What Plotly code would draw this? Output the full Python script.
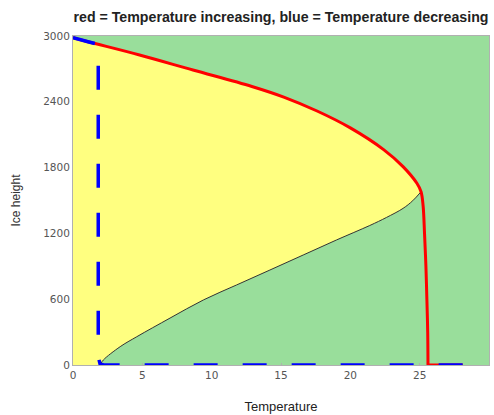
import plotly.graph_objects as go

# Upper (stable, ice-covered) branch, from T=0 to the fold
upper_T = [0.0, 1.08, 4.8, 8.65, 12.9, 15.2, 17.6, 20.0, 22.4, 23.8, 24.8, 25.1]
upper_h = [2985, 2948, 2827, 2690, 2540, 2443, 2316, 2162, 1964, 1809, 1657, 1580]

# Steep drop after the fold (red path)
drop_T = [25.25, 25.35, 25.45, 25.52, 25.58, 25.6]
drop_h = [1450, 1200, 900, 600, 300, 0]

# Red path continuing along zero ice
base_T = [25.6, 28.1]
base_h = [0, 0]

# Lower (unstable) branch, from near T=2 up to the fold
lower_T = [2.0, 2.19, 3.4, 4.6, 7.0, 9.4, 11.8, 14.2, 16.6, 19.0, 21.4, 22.6, 23.8, 24.5, 25.1]
lower_h = [10, 46, 167, 258, 428, 593, 730, 866, 1003, 1140, 1272, 1345, 1428, 1498, 1580]

# Blue path (temperature decreasing)
blue_T = [28.1, 2.2, 1.95, 1.85, 1.82, 1.82, 1.08, 0.0]
blue_h = [0, 0, 10, 60, 200, 2924, 2948, 2985]

x_ticks = [0, 5, 10, 15, 20, 25, 30]
y_ticks = [0, 600, 1200, 1800, 2400, 3000]

fig = go.Figure()

# Yellow region bounded by T=0, the upper branch and the lower branch
fill_T = [0.0] + upper_T + lower_T[::-1] + [0.0]
fill_h = [0] + upper_h + lower_h[::-1] + [0]
fig.add_trace(go.Scatter(x=fill_T, y=fill_h, fill="toself", fillcolor="rgb(255,255,128)",
                         line=dict(width=0, shape="spline", smoothing=1.0), mode="lines",
                         hoverinfo="skip", showlegend=False))

# Lower branch thin black line
fig.add_trace(go.Scatter(x=lower_T, y=lower_h, mode="lines",
                         line=dict(color="#333333", width=1, shape="spline", smoothing=1.0),
                         showlegend=False))

# Red path
fig.add_trace(go.Scatter(x=upper_T + drop_T, y=upper_h + drop_h, mode="lines",
                         line=dict(color="rgb(255,0,0)", width=3, shape="spline", smoothing=1.0),
                         showlegend=False))
fig.add_trace(go.Scatter(x=base_T, y=base_h, mode="lines",
                         line=dict(color="rgb(255,0,0)", width=3), showlegend=False))

# Blue dashed path
fig.add_trace(go.Scatter(x=blue_T, y=blue_h, mode="lines",
                         line=dict(color="rgb(0,0,255)", width=3.5, dash="24px,25px"),
                         showlegend=False))

axis_common = dict(showgrid=False, zeroline=False, showline=True, mirror=True,
                   linecolor="#b0b0b0", linewidth=1, ticks="inside", ticklen=2,
                   tickcolor="#b0b0b0", layer="below traces",
                   tickfont=dict(size=10.5, color="#555555", family="DejaVu Sans"))

fig.update_layout(
    width=494, height=415,
    margin=dict(l=73, r=5, t=36, b=50),
    paper_bgcolor="white",
    plot_bgcolor="rgb(153,222,155)",
    title=dict(text="<b>red = Temperature increasing, blue = Temperature decreasing</b>",
               x=0.5, xref="paper", y=0.958, yref="container", xanchor="center",
               yanchor="middle",
               font=dict(size=14.2, color="#222222", family="Liberation Sans")),
    xaxis=dict(range=[0, 30], tickvals=x_ticks, ticktext=[str(v) for v in x_ticks],
               title=dict(text="Temperature", standoff=22,
                          font=dict(size=13, color="#222222", family="Liberation Sans")),
               automargin=False, **axis_common),
    yaxis=dict(range=[0, 3000], tickvals=y_ticks, ticktext=[str(v) for v in y_ticks],
               title=dict(text="Ice height", standoff=19,
                          font=dict(size=12, color="#333333", family="Liberation Sans")),
               automargin=False, **axis_common),
)

fig.write_html("out.html", config={"displayModeBar": False},
               post_script="document.body.style.margin='0px';document.body.style.overflow='hidden';")
